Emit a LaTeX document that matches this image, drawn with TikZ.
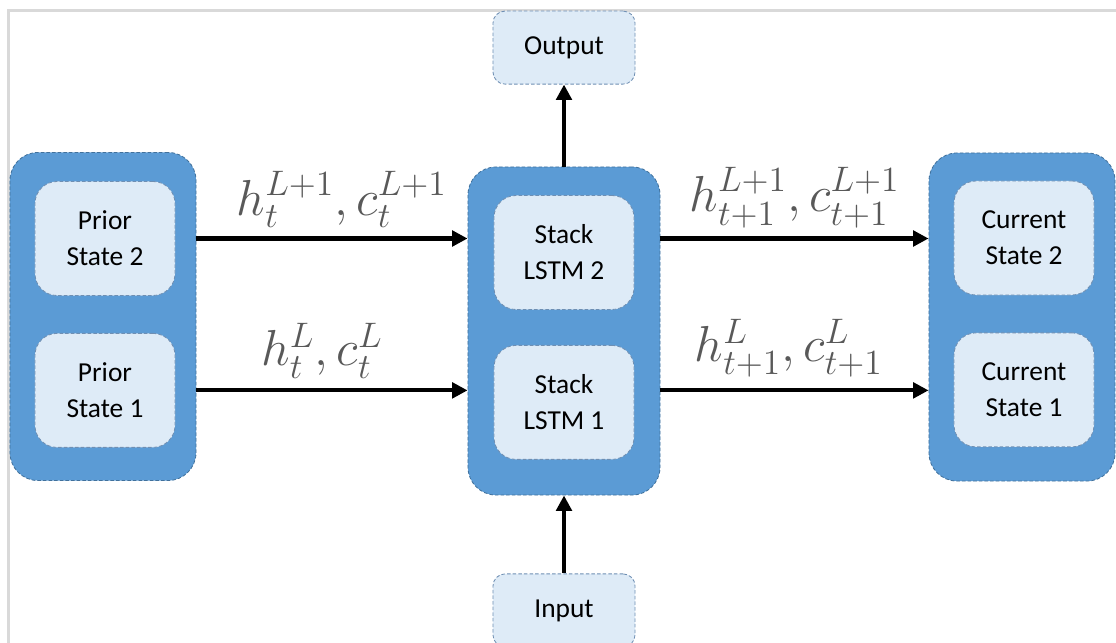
\RequirePackage{fix-cm}
\documentclass[tikz,border=0pt]{standalone}
\usepackage[no-math]{fontspec}
\setmainfont{Carlito}
\usepackage{amsmath}
\usepackage{graphicx}
\usetikzlibrary{arrows.meta,positioning}
\definecolor{boxblue}{HTML}{5B9BD5}
\definecolor{edgeblue}{HTML}{41719C}
\definecolor{paleblue}{HTML}{DEEBF7}
\definecolor{softedge}{HTML}{6F8FB3}
\definecolor{labelgray}{HTML}{595959}
\definecolor{framegray}{HTML}{D9D9D9}
\newcommand{\statelab}[1]{\scalebox{1.5}{$#1$}}
\tikzset{%
   outer/.style={draw=edgeblue, fill=boxblue, line width=0.6pt, dash pattern=on 2.5pt off 1.5pt,
      rounded corners=0.7cm, minimum width=4.65cm, minimum height=8.2cm},
   cell/.style={draw=softedge, fill=paleblue, line width=0.6pt, dash pattern=on 2.5pt off 1.5pt,
      rounded corners=0.55cm, minimum width=3.5cm, minimum height=2.85cm, align=center,
      font=\fontsize{19.5}{25.5}\selectfont},
   io/.style={cell, rounded corners=0.3cm, minimum width=3.55cm, minimum height=1.825cm},
   flow/.style={-{Triangle[length=11pt, width=11pt]}, line width=3pt},
   lbl/.style={text=labelgray, font=\fontsize{24}{28}\selectfont, inner sep=2pt},
}

\begin{document}
\begin{tikzpicture}[x=0.025cm, y=-0.025cm]
      \useasboundingbox (0,0) rectangle (1116,643);
      \draw[framegray, line width=2pt] (8.3,660) -- (8.3,10.3) -- (1130,10.3);
      % the three columns
      \node[outer] (prior) at (103,316.5) {};
      \node[outer, minimum width=4.8cm] (stack) at (564,331) {};
      \node[outer] (current) at (1022,317) {};
      \node[cell] (prior2) at (105,238.5) {Prior\\State 2};
      \node[cell, below=0.925cm of prior2] (prior1) {Prior\\State 1};
      \node[cell] (stack2) at (564,252.5) {Stack\\LSTM 2};
      \node[cell, below=0.875cm of stack2] (stack1) {Stack\\LSTM 1};
      \node[cell] (cur2) at (1024,238) {Current\\State 2};
      \node[cell, below=0.925cm of cur2] (cur1) {Current\\State 1};
      \node[io, above=2.05cm of stack] (out) {Output};
      \node[io, below=1.95cm of stack] (in) {Input};
      % connectors
      \draw[flow] (prior2 -| prior.east) -- (prior2 -| stack.west)
         node[lbl, midway, above=4pt, xshift=7pt] {\statelab{h_t^{L+1},c_t^{L+1}}};
      \draw[flow] (prior1 -| prior.east) -- (prior1 -| stack.west)
         node[lbl, midway, above=5pt, xshift=-7pt] {\statelab{h_t^{L},c_t^{L}}};
      \draw[flow] (prior2 -| stack.east) -- (prior2 -| current.west)
         node[lbl, midway, above=4pt] {\statelab{h_{t+1}^{L+1},c_{t+1}^{L+1}}};
      \draw[flow] (prior1 -| stack.east) -- (prior1 -| current.west)
         node[lbl, midway, above=6pt, xshift=-4pt] {\statelab{h_{t+1}^{L},c_{t+1}^{L}}};
      \draw[flow] (stack) -- (out);
      \draw[flow] (in) -- (stack);
   \end{tikzpicture}
\end{document}
